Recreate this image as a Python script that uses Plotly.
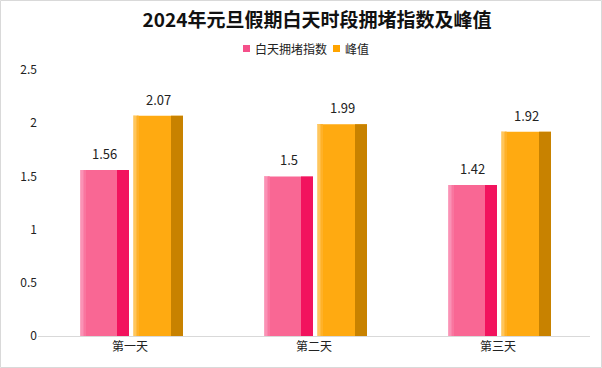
import plotly.graph_objects as go

categories = ["第一天", "第二天", "第三天"]
day_index = [1.56, 1.5, 1.42]
peak = [2.07, 1.99, 1.92]
series_names = ["白天拥堵指数", "峰值"]
y_ticks = [0, 0.5, 1, 1.5, 2, 2.5]
y_tick_labels = ["0", "0.5", "1", "1.5", "2", "2.5"]

W, H = 602, 368
ml, mr, mt, mb = 38, 12, 70, 32
pw = W - ml - mr
ph = H - mt - mb
cat_px = pw / 3.0

def u(px):
    return px / cat_px

def px_x(x):  # page pixel -> paper x
    return (x - ml) / pw

def px_y(y):  # page pixel -> paper y
    return (H - mb - y) / ph

fig = go.Figure()
annotations = []

def add_series(vals, left_px, width_px, light, dark, grads):
    fig.add_trace(go.Bar(
        x=categories, y=vals, marker=dict(color=light, line=dict(width=0)),
        offset=u(left_px), width=u(width_px), showlegend=False, hoverinfo="skip",
    ))
    for i, c in enumerate(grads):
        fig.add_trace(go.Bar(
            x=categories, y=vals, marker=dict(color=c, line=dict(width=0)),
            offset=u(left_px + i * 1.5), width=u(1.5),
            showlegend=False, hoverinfo="skip",
        ))
    fig.add_trace(go.Bar(
        x=categories, y=vals, marker=dict(color=dark, line=dict(width=0)),
        offset=u(left_px + width_px - 12), width=u(12),
        showlegend=False, hoverinfo="skip",
    ))
    for i, v in enumerate(vals):
        annotations.append(dict(
            x=i + u(left_px + width_px / 2), y=v, xref="x", yref="y",
            text=f"{v:g}", showarrow=False, yanchor="bottom", yshift=5,
            font=dict(size=13, color="#222", family="Noto Sans CJK SC"),
        ))

add_series(day_index, -50, 49, "#F96794", "#F2135E",
           ["#FBA2C0", "#FA92B5", "#FA83AB", "#F9769F"])
add_series(peak, 3, 50, "#FFAA11", "#C88200",
           ["#FFD27F", "#FFC65C", "#FFBA3F", "#FFB128"])

# legend drawn manually
legend_items = [(243, "#F5508A", series_names[0]), (333, "#FFA400", series_names[1])]
shapes = []
for lx, col, name in legend_items:
    shapes.append(dict(type="rect", xref="paper", yref="paper",
                       x0=px_x(lx), x1=px_x(lx + 7), y0=px_y(52), y1=px_y(45),
                       line=dict(width=0), fillcolor=col))
    annotations.append(dict(x=px_x(lx + 10), y=px_y(48.5), xref="paper", yref="paper",
                            text=name, showarrow=False, xanchor="left", yanchor="middle",
                            font=dict(size=12, color="#222", family="Noto Sans CJK SC")))

shapes.append(dict(type="rect", xref="paper", yref="paper",
                   x0=(-ml + 0.5) / pw, x1=1 + (mr - 0.5) / pw,
                   y0=(-mb + 0.5) / ph, y1=1 + (mt - 0.5) / ph,
                   line=dict(color="#D9D9D9", width=1), fillcolor="rgba(0,0,0,0)", layer="below"))

fig.update_layout(
    width=W, height=H,
    margin=dict(l=ml, r=mr, t=mt, b=mb),
    paper_bgcolor="white", plot_bgcolor="white",
    barmode="overlay", showlegend=False,
    font=dict(family="Noto Sans CJK SC", size=12, color="#222"),
    title=dict(text="<b>2024年元旦假期白天时段拥堵指数及峰值</b>", x=317 / W, xanchor="center",
               xref="container", y=1 - 20 / H, yanchor="middle",
               font=dict(size=19, color="#111", family="Noto Sans CJK SC")),
    xaxis=dict(showline=True, linecolor="#D9D9D9", linewidth=1, ticks="", showgrid=False,
               tickfont=dict(size=12, color="#222")),
    yaxis=dict(range=[0, 2.5], tickvals=y_ticks, ticktext=y_tick_labels, showgrid=False,
               zeroline=False, showline=False, ticks="", tickfont=dict(size=12, color="#222")),
    shapes=shapes,
    annotations=annotations,
)

fig.write_html("out.html", config={"displayModeBar": False},
               post_script="document.body.style.margin='0';document.body.style.padding='0';")
